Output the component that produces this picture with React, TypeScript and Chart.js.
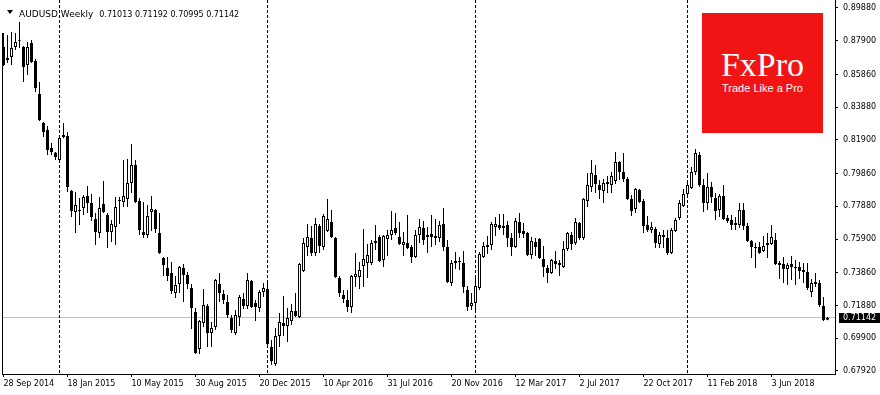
import React, { useEffect, useRef } from 'react';
import { Chart, registerables } from 'chart.js';

Chart.register(...registerables);

// Weekly AUDUSD candles, 28 Sep 2014 .. Sep 2018 (one entry per week)
const opens = [
  0.8752, 0.8673, 0.8691, 0.8752, 0.8794, 0.8752, 0.8643, 0.8776, 0.8667, 0.8468,
  0.8292, 0.8250, 0.8141, 0.8114, 0.8068, 0.8208, 0.8214, 0.7881, 0.7754, 0.7760,
  0.7778, 0.7851, 0.7808, 0.7712, 0.7627, 0.7802, 0.7736, 0.7633, 0.7663, 0.7826,
  0.7814, 0.7832, 0.7929, 0.8038, 0.7820, 0.7633, 0.7615, 0.7754, 0.7766, 0.7627,
  0.7476, 0.7415, 0.7385, 0.7264, 0.7318, 0.7415, 0.7373, 0.7294, 0.7149, 0.6925,
  0.7082, 0.7185, 0.7022, 0.7058, 0.7318, 0.7258, 0.7209, 0.7113, 0.7022, 0.7119,
  0.7227, 0.7185, 0.7336, 0.7203, 0.7173, 0.7270, 0.7288, 0.6937, 0.6834, 0.7004,
  0.7082, 0.7064, 0.7094, 0.7155, 0.7119, 0.7397, 0.7542, 0.7597, 0.7506, 0.7669,
  0.7542, 0.7639, 0.7693, 0.7597, 0.7355, 0.7252, 0.7221, 0.7179, 0.7361, 0.7361,
  0.7427, 0.7445, 0.7445, 0.7566, 0.7603, 0.7463, 0.7591, 0.7615, 0.7657, 0.7603,
  0.7554, 0.7566, 0.7542, 0.7482, 0.7615, 0.7657, 0.7615, 0.7621, 0.7609, 0.7597,
  0.7681, 0.7542, 0.7324, 0.7445, 0.7451, 0.7445, 0.7282, 0.7185, 0.7203, 0.7294,
  0.7482, 0.7554, 0.7554, 0.7663, 0.7675, 0.7669, 0.7675, 0.7597, 0.7542, 0.7693,
  0.7639, 0.7627, 0.7494, 0.7572, 0.7591, 0.7470, 0.7415, 0.7385, 0.7457, 0.7445,
  0.7421, 0.7530, 0.7615, 0.7566, 0.7687, 0.7597, 0.7820, 0.7905, 0.7978, 0.7917,
  0.7881, 0.7923, 0.7917, 0.7941, 0.8056, 0.7996, 0.7953, 0.7832, 0.7772, 0.7887,
  0.7820, 0.7675, 0.7645, 0.7651, 0.7560, 0.7615, 0.7597, 0.7506, 0.7639, 0.7717,
  0.7790, 0.7863, 0.7899, 0.7996, 0.8099, 0.7917, 0.7808, 0.7905, 0.7838, 0.7766,
  0.7851, 0.7717, 0.7705, 0.7687, 0.7675, 0.7766, 0.7669, 0.7578, 0.7542, 0.7542,
  0.7518, 0.7566, 0.7560, 0.7584, 0.7445, 0.7439, 0.7409, 0.7439, 0.7421, 0.7421,
  0.7403, 0.7391, 0.7270, 0.7318, 0.7324, 0.7185, 0.71013,
];

const highs = [
  0.8837, 0.8825, 0.8843, 0.8837, 0.8903, 0.8758, 0.8782, 0.8794, 0.8679, 0.8540,
  0.8298, 0.8274, 0.8171, 0.8117, 0.8208, 0.8292, 0.8238, 0.7887, 0.7875, 0.7838,
  0.7857, 0.7911, 0.7863, 0.7748, 0.7845, 0.7941, 0.7748, 0.7705, 0.7845, 0.7845,
  0.8068, 0.8074, 0.8165, 0.8068, 0.7838, 0.7814, 0.7796, 0.7851, 0.7772, 0.7748,
  0.7482, 0.7482, 0.7451, 0.7367, 0.7427, 0.7439, 0.7391, 0.7318, 0.7173, 0.7100,
  0.7288, 0.7197, 0.7088, 0.7348, 0.7385, 0.7282, 0.7252, 0.7131, 0.7161, 0.7252,
  0.7264, 0.7385, 0.7342, 0.7221, 0.7282, 0.7324, 0.7324, 0.6979, 0.7052, 0.7143,
  0.7246, 0.7173, 0.7197, 0.7264, 0.7445, 0.7597, 0.7681, 0.7669, 0.7717, 0.7681,
  0.7742, 0.7832, 0.7766, 0.7603, 0.7367, 0.7282, 0.7282, 0.7373, 0.7506, 0.7451,
  0.7651, 0.7560, 0.7584, 0.7675, 0.7615, 0.7615, 0.7645, 0.7760, 0.7748, 0.7693,
  0.7633, 0.7736, 0.7554, 0.7645, 0.7712, 0.7699, 0.7663, 0.7736, 0.7712, 0.7699,
  0.7778, 0.7584, 0.7463, 0.7512, 0.7482, 0.7518, 0.7306, 0.7264, 0.7361, 0.7512,
  0.7572, 0.7609, 0.7693, 0.7723, 0.7742, 0.7742, 0.7699, 0.7627, 0.7717, 0.7748,
  0.7687, 0.7633, 0.7603, 0.7597, 0.7597, 0.7548, 0.7433, 0.7470, 0.7518, 0.7463,
  0.7578, 0.7633, 0.7633, 0.7717, 0.7693, 0.7838, 0.7990, 0.8068, 0.8038, 0.7947,
  0.7953, 0.7972, 0.7996, 0.8117, 0.8062, 0.8111, 0.7965, 0.7857, 0.7899, 0.7893,
  0.7832, 0.7730, 0.7693, 0.7663, 0.7633, 0.7645, 0.7645, 0.7657, 0.7717, 0.7826,
  0.7893, 0.7935, 0.8026, 0.8135, 0.8117, 0.7953, 0.7990, 0.7935, 0.7869, 0.7863,
  0.7917, 0.7736, 0.7736, 0.7723, 0.7808, 0.7808, 0.7687, 0.7584, 0.7566, 0.7572,
  0.7609, 0.7627, 0.7675, 0.7627, 0.7457, 0.7482, 0.7445, 0.7488, 0.7463, 0.7451,
  0.7445, 0.7445, 0.7348, 0.7385, 0.7342, 0.7239, 0.71192,
];

const lows = [
  0.8637, 0.8655, 0.8643, 0.8734, 0.8746, 0.8540, 0.8583, 0.8655, 0.8480, 0.8305,
  0.8208, 0.8099, 0.8099, 0.8068, 0.8050, 0.8200, 0.7875, 0.7724, 0.7627, 0.7675,
  0.7736, 0.7748, 0.7699, 0.7554, 0.7597, 0.7748, 0.7536, 0.7572, 0.7554, 0.7681,
  0.7784, 0.7784, 0.7869, 0.7808, 0.7615, 0.7597, 0.7597, 0.7639, 0.7627, 0.7500,
  0.7367, 0.7336, 0.7258, 0.7233, 0.7264, 0.7209, 0.7288, 0.7046, 0.6895, 0.6895,
  0.7058, 0.6937, 0.6937, 0.7040, 0.7209, 0.7197, 0.7113, 0.7022, 0.7010, 0.7064,
  0.7167, 0.7167, 0.7173, 0.7094, 0.7149, 0.7240, 0.6937, 0.6828, 0.6822, 0.6937,
  0.7004, 0.6967, 0.7070, 0.7119, 0.7113, 0.7391, 0.7488, 0.7488, 0.7488, 0.7506,
  0.7524, 0.7633, 0.7597, 0.7355, 0.7240, 0.7203, 0.7149, 0.7143, 0.7300, 0.7288,
  0.7300, 0.7355, 0.7433, 0.7524, 0.7451, 0.7421, 0.7488, 0.7584, 0.7615, 0.7554,
  0.7488, 0.7530, 0.7445, 0.7476, 0.7566, 0.7554, 0.7506, 0.7542, 0.7554, 0.7572,
  0.7518, 0.7324, 0.7306, 0.7409, 0.7403, 0.7264, 0.7155, 0.7161, 0.7155, 0.7282,
  0.7476, 0.7500, 0.7524, 0.7609, 0.7645, 0.7615, 0.7542, 0.7488, 0.7536, 0.7597,
  0.7597, 0.7488, 0.7470, 0.7488, 0.7470, 0.7361, 0.7324, 0.7379, 0.7409, 0.7367,
  0.7415, 0.7518, 0.7524, 0.7554, 0.7584, 0.7584, 0.7784, 0.7875, 0.7869, 0.7832,
  0.7808, 0.7869, 0.7869, 0.7923, 0.7947, 0.7935, 0.7826, 0.7730, 0.7748, 0.7808,
  0.7627, 0.7633, 0.7627, 0.7536, 0.7536, 0.7536, 0.7494, 0.7500, 0.7633, 0.7705,
  0.7784, 0.7838, 0.7893, 0.7978, 0.7905, 0.7754, 0.7766, 0.7808, 0.7705, 0.7724,
  0.7705, 0.7687, 0.7645, 0.7645, 0.7657, 0.7645, 0.7572, 0.7476, 0.7415, 0.7500,
  0.7512, 0.7476, 0.7554, 0.7433, 0.7348, 0.7324, 0.7312, 0.7342, 0.7312, 0.7348,
  0.7324, 0.7282, 0.7240, 0.7300, 0.7179, 0.7094, 0.70995,
];

const closes = [
  0.8643, 0.8685, 0.8746, 0.8782, 0.8790, 0.8631, 0.8752, 0.8661, 0.8504, 0.8310,
  0.8238, 0.8129, 0.8117, 0.8087, 0.8202, 0.8220, 0.7905, 0.7760, 0.7796, 0.7763,
  0.7845, 0.7808, 0.7724, 0.7633, 0.7778, 0.7754, 0.7633, 0.7681, 0.7784, 0.7820,
  0.7851, 0.7929, 0.8038, 0.7814, 0.7645, 0.7615, 0.7730, 0.7772, 0.7651, 0.7506,
  0.7433, 0.7367, 0.7276, 0.7312, 0.7421, 0.7373, 0.7318, 0.7173, 0.6901, 0.7094,
  0.7191, 0.7022, 0.7052, 0.7342, 0.7264, 0.7221, 0.7131, 0.7040, 0.7131, 0.7240,
  0.7185, 0.7342, 0.7179, 0.7179, 0.7270, 0.7294, 0.6955, 0.6852, 0.7004, 0.7088,
  0.7064, 0.7113, 0.7155, 0.7125, 0.7439, 0.7566, 0.7603, 0.7506, 0.7681, 0.7548,
  0.7730, 0.7712, 0.7603, 0.7361, 0.7264, 0.7227, 0.7179, 0.7367, 0.7379, 0.7403,
  0.7470, 0.7494, 0.7566, 0.7578, 0.7457, 0.7609, 0.7615, 0.7645, 0.7627, 0.7560,
  0.7572, 0.7536, 0.7482, 0.7615, 0.7663, 0.7584, 0.7603, 0.7603, 0.7597, 0.7675,
  0.7542, 0.7330, 0.7445, 0.7457, 0.7454, 0.7300, 0.7179, 0.7203, 0.7306, 0.7500,
  0.7548, 0.7542, 0.7681, 0.7681, 0.7657, 0.7657, 0.7597, 0.7542, 0.7699, 0.7627,
  0.7621, 0.7494, 0.7578, 0.7542, 0.7476, 0.7421, 0.7385, 0.7463, 0.7439, 0.7433,
  0.7530, 0.7627, 0.7560, 0.7693, 0.7597, 0.7832, 0.7917, 0.7990, 0.7923, 0.7887,
  0.7929, 0.7935, 0.7972, 0.8056, 0.7996, 0.7953, 0.7832, 0.7760, 0.7893, 0.7814,
  0.7669, 0.7645, 0.7663, 0.7566, 0.7615, 0.7603, 0.7506, 0.7645, 0.7705, 0.7808,
  0.7863, 0.7917, 0.7996, 0.8111, 0.7917, 0.7808, 0.7905, 0.7845, 0.7760, 0.7851,
  0.7712, 0.7699, 0.7675, 0.7675, 0.7766, 0.7669, 0.7578, 0.7542, 0.7536, 0.7506,
  0.7548, 0.7554, 0.7603, 0.7439, 0.7433, 0.7409, 0.7433, 0.7421, 0.7415, 0.7397,
  0.7391, 0.7294, 0.7324, 0.7330, 0.7191, 0.7100, 0.71142,
];

// Axis ticks (x = week index of each dated tick)
const xTickWeeks = [0, 16, 32, 48, 64, 80, 96, 112, 128, 144, 160, 176, 192];
const xTickLabels = [
  '28 Sep 2014', '18 Jan 2015', '10 May 2015', '30 Aug 2015', '20 Dec 2015',
  '10 Apr 2016', '31 Jul 2016', '20 Nov 2016', '12 Mar 2017', '2 Jul 2017',
  '22 Oct 2017', '11 Feb 2018', '3 Jun 2018',
];
const yTickValues = [
  0.8988, 0.879, 0.8586, 0.8388, 0.819, 0.7986, 0.7788, 0.759, 0.7386, 0.7188, 0.699, 0.6792,
];
// Year separators (week index of first week of each year)
const yearStartWeeks = [14, 66, 118, 171];

const symbolTitle = 'AUDUSD,Weekly';
const Y_MIN = 0.67737;
const Y_MAX = 0.90364;
const X_MIN = -0.375;
const X_MAX = 207.875;

const last = closes.length - 1;
const FONT = 'DejaVu Sans';

const overlayPlugin = {
  id: 'mt4Overlay',
  beforeDatasetsDraw(chart: any) {
    const { ctx, chartArea, scales } = chart;
    const x = scales.x;
    const y = scales.y;
    ctx.save();
    // current price line
    const py = Math.floor(y.getPixelForValue(closes[last])) + 0.5;
    ctx.strokeStyle = '#c0c0c0';
    ctx.lineWidth = 1;
    ctx.beginPath();
    ctx.moveTo(chartArea.left, py);
    ctx.lineTo(chartArea.right, py);
    ctx.stroke();
    // period separators
    ctx.strokeStyle = '#000';
    ctx.setLineDash([3, 2]);
    for (const w of yearStartWeeks) {
      const px = Math.floor(x.getPixelForValue(w)) + 0.5;
      ctx.beginPath();
      ctx.moveTo(px, chartArea.top);
      ctx.lineTo(px, chartArea.bottom);
      ctx.stroke();
    }
    ctx.setLineDash([]);
    // left frame line
    const lx = chartArea.left + 0.5;
    ctx.beginPath();
    ctx.moveTo(lx, Math.round(y.getPixelForValue(highs[0])));
    ctx.lineTo(lx, chartArea.bottom);
    ctx.stroke();
    ctx.restore();
  },
  afterDraw(chart: any) {
    const { ctx, chartArea, scales, width } = chart;
    const y = scales.y;
    const py = y.getPixelForValue(closes[last]);
    ctx.save();
    ctx.fillStyle = '#000';
    ctx.fillRect(chartArea.right + 4, Math.round(py - 5), width - chartArea.right - 4, 10);
    ctx.fillStyle = '#fff';
    ctx.font = `8px "${FONT}"`;
    ctx.textBaseline = 'middle';
    ctx.textAlign = 'left';
    ctx.fillText(closes[last].toFixed(5), chartArea.right + 8, Math.round(py));
    ctx.restore();
  },
};

export default function App() {
  const canvasRef = useRef<HTMLCanvasElement | null>(null);

  useEffect(() => {
    document.body.style.margin = '0';
    const canvas = canvasRef.current;
    if (!canvas) return;

    const bodies = opens.map((o, i) => ({ x: i, y: [o, closes[i]] }));
    const wicks = lows.map((l, i) => ({ x: i, y: [l, highs[i]] }));
    const bodyColors = opens.map((o, i) => (closes[i] >= o ? '#ffffff' : '#000000'));

    const chart = new Chart(canvas, {
      type: 'bar',
      data: {
        datasets: [
          {
            label: 'body',
            data: bodies as any,
            order: 0,
            grouped: false,
            barThickness: 3,
            backgroundColor: bodyColors,
            borderColor: '#000000',
            borderWidth: 1,
            borderSkipped: false,
            inflateAmount: 0,
            minBarLength: 1,
          } as any,
          {
            label: 'wick',
            data: wicks as any,
            order: 1,
            grouped: false,
            barThickness: 1,
            backgroundColor: '#000000',
            borderWidth: 0,
            inflateAmount: 0,
          } as any,
        ],
      },
      options: {
        responsive: false,
        animation: false,
        devicePixelRatio: 1,
        layout: { padding: { left: 2, top: 0, right: 0, bottom: 0 } },
        plugins: {
          legend: { display: false },
          tooltip: { enabled: false },
        },
        scales: {
          x: {
            type: 'linear',
            min: X_MIN,
            max: X_MAX,
            offset: false,
            position: 'bottom',
            grid: {
              display: true,
              drawOnChartArea: false,
              drawTicks: true,
              tickLength: 3,
              color: '#000',
              offset: false,
            },
            border: { display: true, color: '#000', width: 1 },
            afterBuildTicks: (scale: any) => {
              scale.ticks = xTickWeeks.map((v) => ({ value: v }));
            },
            afterFit: (scale: any) => {
              scale.height = 21;
              scale.paddingLeft = 0;
              scale.paddingRight = 0;
            },
            ticks: {
              autoSkip: false,
              maxRotation: 0,
              minRotation: 0,
              align: 'start',
              padding: 2,
              color: '#000',
              font: { family: FONT, size: 8 },
              callback: (_v: any, i: number) => xTickLabels[i],
            },
          } as any,
          y: {
            type: 'linear',
            position: 'right',
            min: Y_MIN,
            max: Y_MAX,
            beginAtZero: false,
            grid: {
              display: true,
              drawOnChartArea: false,
              drawTicks: true,
              tickLength: 3,
              color: '#000',
            },
            border: { display: true, color: '#000', width: 1 },
            afterBuildTicks: (scale: any) => {
              scale.ticks = yTickValues.map((v) => ({ value: v }));
            },
            afterFit: (scale: any) => {
              scale.width = 45;
              scale.paddingTop = 0;
              scale.paddingBottom = 0;
            },
            ticks: {
              autoSkip: false,
              padding: 5,
              color: '#000',
              font: { family: FONT, size: 8 },
              callback: (v: any) => Number(v).toFixed(5),
            },
          } as any,
        },
      },
      plugins: [overlayPlugin],
    });

    return () => chart.destroy();
  }, []);

  const ohlc = [opens[last], highs[last], lows[last], closes[last]].map((v) => v.toFixed(5)).join(' ');

  return (
    <div style={{ position: 'relative', width: 880, height: 395, background: '#fff', overflow: 'hidden' }}>
      <canvas ref={canvasRef} width={880} height={395} style={{ display: 'block', width: 880, height: 395 }} />
      <div
        style={{
          position: 'absolute',
          left: 7,
          top: 10,
          width: 0,
          height: 0,
          borderLeft: '3px solid transparent',
          borderRight: '3px solid transparent',
          borderTop: '4px solid #000',
        }}
      />
      <div
        style={{
          position: 'absolute',
          left: 19,
          top: 7,
          whiteSpace: 'pre',
          color: '#000',
          fontFamily: FONT,
          lineHeight: '9px',
        }}
      >
        <span style={{ fontSize: 9 }}>{symbolTitle}</span>
        <span style={{ fontSize: 8, marginLeft: 6 }}>{ohlc}</span>
      </div>
      <div
        style={{
          position: 'absolute',
          left: 702,
          top: 13,
          width: 121,
          height: 120,
          background: '#f01414',
        }}
      >
        <div
          style={{
            position: 'absolute',
            left: 0,
            width: '100%',
            top: 35,
            textAlign: 'center',
            color: '#fff',
            fontFamily: '"Liberation Serif"',
            fontSize: 34,
            lineHeight: '34px',
            whiteSpace: 'nowrap',
          }}
        >
          FxPro
        </div>
        <div
          style={{
            position: 'absolute',
            left: 0,
            width: '100%',
            top: 70,
            textAlign: 'center',
            color: '#fff',
            fontFamily: '"Liberation Sans"',
            fontSize: 11,
            lineHeight: '11px',
            whiteSpace: 'nowrap',
          }}
        >
          Trade Like a Pro
        </div>
      </div>
    </div>
  );
}
